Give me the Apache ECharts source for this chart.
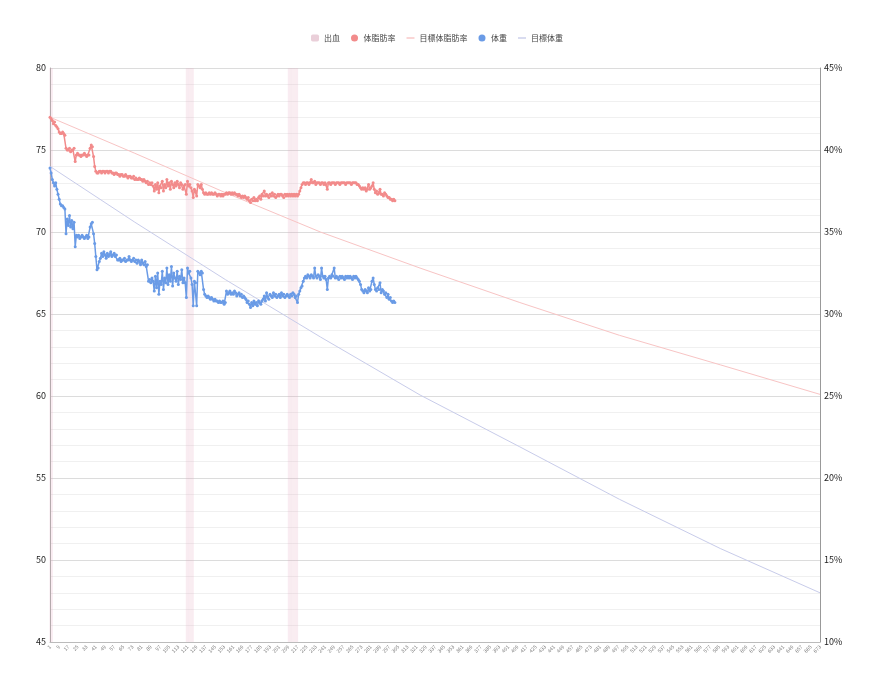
<!DOCTYPE html>
<html>
<head>
<meta charset="utf-8">
<script src="https://cdn.jsdelivr.net/npm/echarts@6/dist/echarts.min.js"></script>
<style>
html,body{margin:0;padding:0;background:#fff;}
#chart{width:874px;height:681px;}
</style>
</head>
<body>
<div id="chart"></div>
<script>
// ---- data ----
const dayCount = 673;
const categories = Array.from({length: dayCount}, (_, i) => String(i + 1));

const weight = [
73.9,73.6,73.2,73.0,72.8,73.0,72.6,72.3,72.0,71.7,
71.6,71.6,71.5,71.4,69.9,70.8,70.4,71.0,70.3,70.7,
70.2,70.6,69.1,69.8,69.7,69.8,69.6,69.7,69.8,69.7,
69.6,69.7,69.8,69.6,69.7,70.3,70.5,70.6,69.9,69.3,
68.5,67.7,67.8,68.2,68.4,68.7,68.5,68.8,68.6,68.4,
68.7,68.5,68.6,68.8,68.5,68.6,68.7,68.5,68.6,68.3,
68.3,68.4,68.2,68.3,68.3,68.4,68.2,68.3,68.3,68.5,
68.3,68.2,68.3,68.4,68.2,68.3,68.1,68.3,68.2,68.0,
68.3,68.1,68.0,68.2,67.9,68.0,67.0,67.1,66.9,67.2,
67.0,66.4,67.3,66.6,67.5,66.2,67.0,66.8,67.6,66.5,
67.2,66.9,67.8,66.8,67.4,67.0,67.9,66.7,67.5,67.2,
67.0,67.6,66.8,67.3,67.1,67.7,66.9,67.2,66.9,66.0,
67.8,67.5,67.6,67.2,66.8,65.5,67.0,66.9,65.5,67.6,
67.5,67.4,67.6,67.5,66.5,66.2,66.1,66.0,66.1,66.0,
65.9,66.0,65.9,65.8,65.9,65.8,65.8,65.7,65.8,65.7,
65.7,65.8,65.6,65.7,66.4,66.2,66.3,66.4,66.2,66.3,
66.2,66.4,66.3,66.1,66.2,66.3,66.1,66.2,66.0,66.1,
66.0,65.9,65.7,65.8,65.6,65.4,65.7,65.5,65.8,65.6,
65.7,65.5,65.8,65.7,65.6,65.8,65.9,66.1,65.8,66.3,
66.0,65.9,66.2,66.1,66.0,66.3,66.1,66.2,66.0,66.1,
66.2,66.0,66.3,66.1,66.2,66.0,66.1,66.2,66.1,66.0,
66.2,66.1,66.3,66.2,66.0,66.1,65.7,66.2,66.4,66.6,
66.7,67.0,67.2,67.3,67.2,67.4,67.3,67.2,67.4,67.3,
67.2,67.8,67.3,67.2,67.4,67.3,67.1,67.8,67.3,67.2,
67.3,67.1,66.5,67.2,67.3,67.2,67.4,67.3,67.8,67.2,
67.3,67.2,67.1,67.3,67.2,67.3,67.2,67.1,67.3,67.2,
67.3,67.2,67.3,67.2,67.1,67.3,67.2,67.3,67.2,67.1,
67.0,66.8,66.5,66.4,66.3,66.5,66.4,66.3,66.6,66.4,
66.5,67.0,67.2,66.8,66.5,66.4,66.6,66.5,66.9,66.3,
66.5,66.4,66.2,66.3,66.0,66.2,65.9,66.0,65.8,65.7,
65.8,65.7
];

const bodyFat = [
42.0,41.9,41.8,41.6,41.7,41.5,41.4,41.3,41.1,41.0,
41.0,41.1,41.0,40.9,40.1,40.0,40.0,40.1,39.9,40.0,
40.0,40.1,39.3,39.7,39.8,39.7,39.7,39.6,39.7,39.7,
39.8,39.7,39.6,39.7,39.7,40.1,40.3,40.2,39.6,39.0,
38.7,38.6,38.6,38.7,38.7,38.6,38.7,38.7,38.6,38.7,
38.7,38.6,38.7,38.7,38.6,38.6,38.5,38.6,38.6,38.5,
38.5,38.4,38.5,38.5,38.4,38.4,38.5,38.4,38.3,38.4,
38.4,38.3,38.3,38.4,38.2,38.3,38.2,38.2,38.3,38.2,
38.2,38.1,38.2,38.1,38.0,38.1,37.9,38.0,37.9,38.0,
37.8,37.5,37.9,37.6,38.0,37.4,37.8,37.7,38.1,37.5,
37.9,37.7,38.2,37.8,38.0,37.6,38.1,37.9,37.7,38.0,
37.8,38.1,37.9,37.7,38.0,37.9,37.6,37.8,37.9,37.3,
38.1,37.8,37.9,37.7,37.5,37.1,37.6,37.5,37.2,37.9,
37.8,37.7,37.9,37.6,37.4,37.3,37.4,37.3,37.3,37.4,
37.3,37.4,37.3,37.3,37.4,37.3,37.2,37.3,37.3,37.2,
37.3,37.2,37.3,37.3,37.4,37.3,37.4,37.4,37.3,37.4,
37.3,37.4,37.3,37.3,37.2,37.3,37.2,37.1,37.2,37.1,
37.2,37.1,37.0,37.1,36.9,36.8,37.0,36.9,37.1,36.9,
37.0,36.9,37.1,37.2,37.0,37.3,37.2,37.5,37.2,37.3,
37.2,37.1,37.3,37.2,37.4,37.2,37.3,37.1,37.2,37.3,
37.2,37.3,37.3,37.2,37.1,37.3,37.2,37.3,37.2,37.3,
37.2,37.3,37.2,37.3,37.2,37.3,37.2,37.3,37.5,37.7,
37.9,38.0,38.0,37.9,38.0,38.0,37.9,38.0,38.2,38.0,
38.0,38.1,37.9,38.0,38.0,38.0,37.9,38.0,38.0,37.9,
38.0,37.9,37.6,38.0,38.0,37.9,38.0,38.0,38.0,37.9,
38.0,38.0,38.0,37.9,38.0,38.0,38.0,38.0,37.9,38.0,
38.0,38.0,38.0,37.9,38.0,38.0,38.0,38.0,37.9,37.9,
37.8,37.7,37.6,37.7,37.6,37.7,37.5,37.6,37.9,37.6,
37.7,37.8,38.0,37.6,37.4,37.5,37.3,37.4,37.6,37.3,
37.3,37.2,37.4,37.3,37.2,37.1,37.1,37.0,37.0,36.9,
37.0,36.9
];

// target curves: [day index, value]
const targetWeight = [[0,74.0],[74,70.6],[153,67.1],[236,63.6],[323,60.06],[410,56.9],[497,53.7],[585,50.7],[672,48.0]];
const targetBodyFat = [[0,42.0],[74,39.8],[153,37.4],[236,35.0],[323,32.8],[410,30.7],[497,28.7],[585,26.9],[672,25.1]];

// bleeding days (day index)
const bleedingDays = [0,1,2,119,120,121,122,123,124,125,208,209,210,211,212,213,214,215,216];

// ---- chart ----
const bleedData = categories.map((c, i) => bleedingDays.includes(i) ? 80 : '-');
const font = "'Noto Sans CJK JP', 'Noto Sans', sans-serif";
const lineIcon = 'path://M0,0L14,0L14,2.4L0,2.4Z';

const chart = echarts.init(document.getElementById('chart'), null, {renderer: 'canvas'});
chart.setOption({
  animation: false,
  backgroundColor: '#fff',
  textStyle: {fontFamily: font},
  legend: {
    top: 29,
    left: 'center',
    itemGap: 11,
    itemWidth: 8,
    itemHeight: 7,
    textStyle: {fontSize: 8, color: '#444', fontFamily: font},
    data: [
      {name: '出血', icon: 'roundRect', itemStyle: {color: '#EACFD9'}},
      {name: '体脂肪率', icon: 'circle'},
      {name: '目標体脂肪率', icon: lineIcon},
      {name: '体重', icon: 'circle'},
      {name: '目標体重', icon: lineIcon}
    ]
  },
  grid: {left: 50, right: 54, top: 68, bottom: 39},
  xAxis: {
    type: 'category',
    data: categories,
    boundaryGap: false,
    axisLine: {show: true, lineStyle: {color: '#bbb'}},
    axisTick: {show: false},
    axisLabel: {interval: 7, rotate: 45, fontSize: 5, color: '#777', margin: 4}
  },
  yAxis: [
    {
      type: 'value', min: 45, max: 80, interval: 5,
      axisLine: {show: true, lineStyle: {color: '#aaa'}},
      axisTick: {show: false},
      axisLabel: {fontSize: 9, color: '#222', margin: 4},
      splitLine: {show: true, lineStyle: {color: '#dcdcdc'}},
      minorTick: {show: false, splitNumber: 5},
      minorSplitLine: {show: true, lineStyle: {color: '#f0f0f0'}}
    },
    {
      type: 'value', min: 10, max: 45, interval: 5, position: 'right',
      axisLine: {show: true, lineStyle: {color: '#999'}},
      axisTick: {show: false},
      axisLabel: {fontSize: 9, color: '#222', margin: 4, formatter: '{value}%'},
      splitLine: {show: false}
    }
  ],
  series: [
    {
      name: '出血', type: 'bar', yAxisIndex: 0,
      data: bleedData,
      barCategoryGap: '0%', barGap: '0%',
      itemStyle: {color: 'rgba(226,170,192,0.22)'},
      z: 1
    },
    {
      name: '体脂肪率', type: 'line', yAxisIndex: 1,
      data: bodyFat,
      symbol: 'circle', symbolSize: 3, showSymbol: true, showAllSymbol: true,
      lineStyle: {width: 1.5, color: '#F28B8B'},
      itemStyle: {color: '#F28B8B'},
      z: 3
    },
    {
      name: '目標体脂肪率', type: 'line', yAxisIndex: 1,
      data: targetBodyFat,
      symbol: 'none',
      lineStyle: {width: 1, color: '#F8C4C4'},
      itemStyle: {color: '#F8C4C4'},
      z: 2
    },
    {
      name: '体重', type: 'line', yAxisIndex: 0,
      data: weight,
      symbol: 'circle', symbolSize: 3, showSymbol: true, showAllSymbol: true,
      lineStyle: {width: 1.5, color: '#6A9BE6'},
      itemStyle: {color: '#6A9BE6'},
      z: 3
    },
    {
      name: '目標体重', type: 'line', yAxisIndex: 0,
      data: targetWeight,
      symbol: 'none',
      lineStyle: {width: 1, color: '#C8CCEA'},
      itemStyle: {color: '#C8CCEA'},
      z: 2
    }
  ]
});
</script>
</body>
</html>
